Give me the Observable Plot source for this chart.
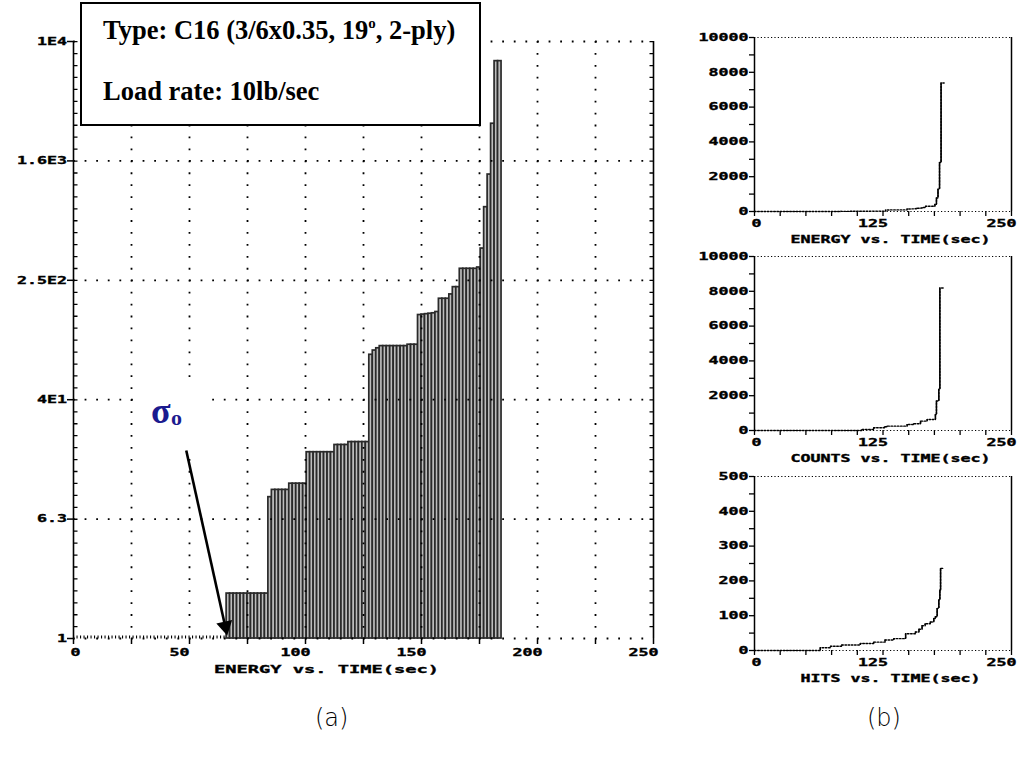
<!DOCTYPE html>
<html><head><meta charset="utf-8">
<script src="https://cdn.jsdelivr.net/npm/d3@7"></script>
<script src="https://cdn.jsdelivr.net/npm/@observablehq/plot@0.6"></script>
<style>
html,body{margin:0;padding:0;background:#fff;}
body{width:1017px;height:757px;position:relative;overflow:hidden;}
.abs{position:absolute;}
#titlebox{left:80px;top:2px;width:397px;height:120px;border:2.5px solid #000;background:#fff;
  font-family:"Liberation Serif","Times New Roman",serif;font-weight:bold;font-size:26.5px;color:#000;}
#titlebox div{position:absolute;left:21px;white-space:nowrap;line-height:30px;}
.sub{font-family:"Liberation Serif",serif;font-weight:bold;color:#1b1b8f;line-height:1;white-space:nowrap;}
.cap{font-family:"DejaVu Sans","Noto Sans",sans-serif;font-weight:200;font-size:24px;line-height:1;color:#000;}
svg text{stroke:#000;stroke-width:0.35px;}
</style></head><body>
<div id="main" class="abs" style="left:0;top:0"></div>
<div id="s1" class="abs" style="left:680px;top:20px"></div>
<div id="s2" class="abs" style="left:680px;top:239px"></div>
<div id="s3" class="abs" style="left:680px;top:459px"></div>
<div id="titlebox" class="abs">
  <div style="top:11px">Type: C16 (3/6x0.35, 19<span style="font-size:15px;position:relative;top:-11px">o</span>, 2-ply)</div>
  <div style="top:72px">Load rate: 10lb/sec</div>
</div>
<div class="abs sub" style="left:151px;top:393px;font-size:36px">σ</div>
<div class="abs sub" style="left:171px;top:407px;font-size:22px">o</div>
<div class="abs cap" style="left:315px;top:706px">(a)</div>
<div class="abs cap" style="left:867px;top:706px">(b)</div>
<script>
// ---------- main chart data (cumulative energy, log scale) ----------
const barTimes = [66,67.5,69,70.5,72,73.5,75,76.5,78,79.5,81,82.5,84,85.5,87,88.5,90,91.5,93,94.5,
  96,97.5,99,100.5,102,103.5,105,106.5,108,109.5,111,112.5,114,115.5,117,118.5,120,121.5,123,124.5,
  126,127.5,129,130.5,132,133.5,135,136.5,138,139.5,141,142.5,144,145.5,147,148.5,150,151.5,153,154.5,
  156,157.5,159,160.5,162,163.5,165,166.5,168,169.5,171,172.5,174,175.5,177,178.5,180,181.5,183];
const barValues = [2,2,2,2,2,2,2,2,2,2,2,2,8.85,9.9,9.9,9.9,9.9,9.9,10.9,10.9,
  10.9,10.9,10.9,17.7,17.7,17.7,17.7,17.7,17.7,17.7,17.7,19.8,19.8,19.8,19.8,20.7,20.7,20.7,20.7,20.7,
  20.7,79.6,85,88,91,91,91,91,91,91,91,91,93,93,93,147,148,149,150,151,
  154,189,189,189,202,226,226,300,300,300,300,300,306,410,776,1284,2812,7385,7385];
const mainYTicks = [1, 6.31, 39.81, 251.19, 1584.89, 10000];
const mainYLabels = ["1", "6.3", "4E1", "2.5E2", "1.6E3", "1E4"];
const mainXGrid = [25, 50, 75, 100, 125, 150, 175, 200, 225];
const mainXTicks = [0, 25, 50, 75, 100, 125, 150, 175, 200, 225, 250];
const mainXLabels = ["0", "50", "100", "150", "200", "250"];
const mainXLabelValues = [0, 50, 100, 150, 200, 250];
const mainXTitle = "ENERGY vs. TIME(sec)";

// ---------- small charts data ----------
const countsTime  = [0,104.7,116,126.5,129,148.5,155,161.5,168,176,177,179.3,180.3,184.2];
const countsValue = [0,58,154,212,250,346,385,538,635,923,1692,2365,8192,8192];
const hitsTime  = [0,64,74,85,103,116,127,135.5,147,156.6,160,163,166,171,174.4,176,177.7,179.3,180.3,181,184.2];
const hitsValue = [0,8,12,16,20,24,30,34,48,53,61,71,77,82,92,97,121,145,174,236,236];
const bigYTicks  = [0,1000,2000,3000,4000,5000,6000,7000,8000,9000,10000];
const bigYLabelValues = [0,2000,4000,6000,8000,10000];
const bigYLabels = ["0","2000","4000","6000","8000","10000"];
const hitYTicks  = [0,50,100,150,200,250,300,350,400,450,500];
const hitYLabelValues = [0,100,200,300,400,500];
const hitYLabels = ["0","100","200","300","400","500"];
const smallXTicks = [0,25,50,75,100,125,150,175,200,225,250];
const smallXLabelValues = [0,125,250];
const smallXLabels = ["0","125","250"];

const BAR_W = 1.5;
const fontStyle = {fontFamily: "'DejaVu Sans Mono', 'Liberation Mono', monospace", fontWeight: "bold", fontSize: "10px", color: "black", background: "transparent"};

function stretch(svg) {
  svg.querySelectorAll("text").forEach(t => {
    const s = t.textContent;
    if (!s) return;
    const g = t.closest("[font-size]");
    const fs = g ? parseFloat(g.getAttribute("font-size")) : 10;
    const w = fs >= 11 ? 11.25 : 10;
    t.setAttribute("textLength", s.length * w);
    t.setAttribute("lengthAdjust", "spacingAndGlyphs");
  });
}
// the "0" time label sits just right of its tick, the others a little left
function shiftZeroLabel(svg) {
  svg.querySelectorAll("text").forEach(t => {
    if (t.textContent === "0" && !t.closest("[text-anchor=end]")) t.setAttribute("dx", "12");
  });
}

// ---------- main chart ----------
const bars = barTimes.map((t, i) => ({t, v: barValues[i]}));
const dotted = {stroke: "black", strokeWidth: 1.8, strokeDasharray: "1.8 9.8"};
const dottedV = {stroke: "black", strokeWidth: 1.8, strokeDasharray: "1.8 10.14"};
const sigmaBox = {x1: 27.2, x2: 59, y1: 16.8, y2: 49.6};
const sigmaArrow = {x1: 48.6, y1: 18.2, x2: 65.4, y2: 1.205};

const main = Plot.plot({
  width: 680, height: 690,
  marginLeft: 73, marginRight: 27, marginTop: 41, marginBottom: 52,
  x: {domain: [0, 250], axis: null, label: null},
  y: {type: "log", domain: [1, 10000], axis: null, label: null},
  style: fontStyle,
  marks: [
    Plot.rect(bars, {x1: "t", x2: d => d.t + BAR_W, y1: () => 1, y2: "v", fill: "#bdbdbd", stroke: "#2a2a2a", strokeWidth: 1.7}),
    Plot.ruleY([1], {x1: () => 0, x2: () => 66, stroke: "black", strokeWidth: 3, strokeDasharray: "1.1 2.4", dy: -1.5}),
    Plot.ruleY(mainYTicks, dotted),
    Plot.ruleX(mainXGrid, dottedV),
    Plot.rect([0], {x1: () => sigmaBox.x1, x2: () => sigmaBox.x2, y1: () => sigmaBox.y1, y2: () => sigmaBox.y2, fill: "white"}),
    Plot.ruleX([0, 250], {stroke: "black", strokeWidth: 1.6}),
    Plot.ruleX([0], {stroke: "black", strokeWidth: 4, dx: 2, strokeDasharray: "1.3 10.64"}),
    Plot.ruleX([250], {stroke: "black", strokeWidth: 4, dx: -2, strokeDasharray: "1.3 10.64"}),
    Plot.axisY(mainYTicks, {anchor: "left", label: null, tickSize: 6, tickPadding: 0, strokeWidth: 1.5, tickFormat: () => ""}),
    Plot.text(mainYTicks, {y: d => d, text: (d, i) => mainYLabels[i], frameAnchor: "left", textAnchor: "end", dx: -6.5, lineAnchor: "middle"}),
    Plot.axisX(mainXTicks, {anchor: "bottom", label: null, tickSize: 6, strokeWidth: 1.5, tickFormat: () => ""}),
    Plot.text(mainXLabelValues, {x: d => d, text: (d, i) => mainXLabels[i], frameAnchor: "bottom", lineAnchor: "top", dy: 10.5, dx: -10}),
    Plot.text([mainXTitle], {text: d => d, frameAnchor: "bottom", lineAnchor: "middle", dx: -37, dy: 31, fontSize: 11}),
    Plot.link([0], {x1: () => sigmaArrow.x1, y1: () => sigmaArrow.y1, x2: () => sigmaArrow.x2, y2: () => sigmaArrow.y2, stroke: "black", strokeWidth: 2.6}),
    Plot.dot([0], {x: () => sigmaArrow.x2, y: () => sigmaArrow.y2, symbol: "triangle", r: 6, fill: "black", stroke: "none", rotate: 167.5})
  ]
});
shiftZeroLabel(main);
stretch(main);
document.getElementById("main").appendChild(main);

// ---------- small charts ----------
function smallChart(id, times, values, yMax, yTicks, yLabelValues, yLabels, title) {
  const data = times.map((t, i) => ({t, v: values[i]}));
  const jumps = data.slice(1).map((d, i) => ({t: d.t, v0: data[i].v, v1: d.v}));
  const fine = {stroke: "black", strokeWidth: 1.2, strokeDasharray: "1.2 2.2"};
  const p = Plot.plot({
    width: 337, height: 232,
    marginLeft: 74, marginRight: 6, marginTop: 17, marginBottom: 41,
    x: {domain: [0, 250], axis: null, label: null},
    y: {domain: [0, yMax], axis: null, label: null},
    style: fontStyle,
    marks: [
      Plot.ruleY([0, yMax], fine),
      Plot.ruleX([0, 250], {stroke: "black", strokeWidth: 1.5}),
      Plot.line(data, {x: "t", y: "v", curve: "step-after", stroke: "black", strokeWidth: 1.4, strokeDasharray: "1.6 1.6"}),
      Plot.ruleX(jumps, {x: "t", y1: "v0", y2: "v1", stroke: "black", strokeWidth: 1.5}),
      Plot.axisY(yTicks, {anchor: "left", label: null, tickSize: 5, tickPadding: 1, strokeWidth: 1.3, tickFormat: () => ""}),
      Plot.text(yLabelValues, {y: d => d, text: (d, i) => yLabels[i], frameAnchor: "left", textAnchor: "end", dx: -6, lineAnchor: "middle"}),
      Plot.axisX(smallXTicks, {anchor: "bottom", label: null, tickSize: 5, strokeWidth: 1.3, tickFormat: () => ""}),
      Plot.text(smallXLabelValues, {x: d => d, text: (d, i) => smallXLabels[i], frameAnchor: "bottom", lineAnchor: "top", dy: 8, dx: -10}),
      Plot.text([title], {text: d => d, frameAnchor: "bottom", lineAnchor: "middle", dx: 7.5, dy: 28})
    ]
  });
  shiftZeroLabel(p);
  stretch(p);
  document.getElementById(id).appendChild(p);
}
const energyLine = barTimes.concat([barTimes[barTimes.length - 1] + BAR_W]);
const energyVals = barValues.concat([barValues[barValues.length - 1]]);
smallChart("s1", [0].concat(energyLine), [0].concat(energyVals), 10000, bigYTicks, bigYLabelValues, bigYLabels, "ENERGY vs. TIME(sec)");
smallChart("s2", countsTime, countsValue, 10000, bigYTicks, bigYLabelValues, bigYLabels, "COUNTS vs. TIME(sec)");
smallChart("s3", hitsTime, hitsValue, 500, hitYTicks, hitYLabelValues, hitYLabels, "HITS vs. TIME(sec)");
</script>
</body></html>
